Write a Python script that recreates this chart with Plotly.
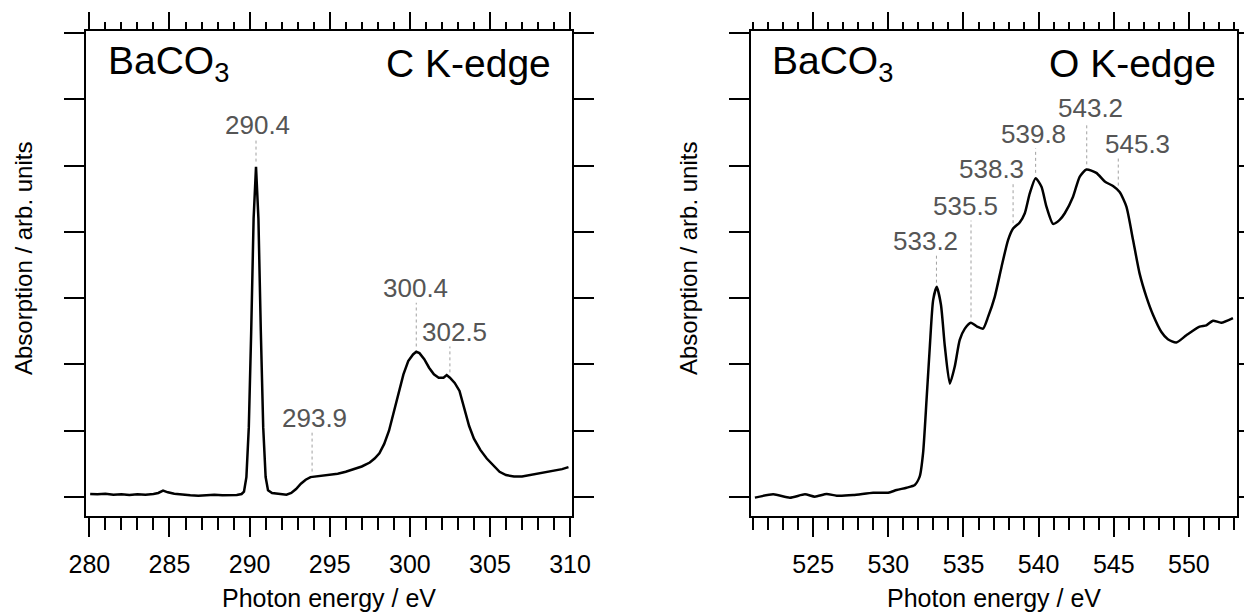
import plotly.graph_objects as go
import numpy as np

# ---------------- data ----------------
E_C = [280.05, 280.5, 281.0, 281.5, 282.0, 282.5, 283.0, 283.5, 284.0, 284.3, 284.6, 284.9,
       285.3, 285.8, 286.3, 286.8, 287.3, 287.8, 288.3, 288.8, 289.2, 289.5, 289.65, 289.8,
       289.95, 290.1, 290.25, 290.4, 290.55, 290.7, 290.85, 291.0, 291.15, 291.4, 291.7, 292.0,
       292.3, 292.6, 292.9, 293.2, 293.5, 293.8, 294.1, 294.5, 295.0, 295.5, 296.0, 296.5,
       297.0, 297.5, 297.8, 298.1, 298.4, 298.7, 299.0, 299.3, 299.6, 299.9, 300.2, 300.4,
       300.6, 300.9, 301.2, 301.5, 301.8, 302.1, 302.3, 302.5, 302.8, 303.1, 303.4, 303.7,
       304.0, 304.4, 304.8, 305.2, 305.6, 306.0, 306.5, 307.0, 307.5, 308.0, 308.5, 309.0,
       309.5, 309.9]
A_C = [0.045, 0.04, 0.05, 0.035, 0.04, 0.03, 0.04, 0.035, 0.045, 0.06, 0.095, 0.07,
       0.05, 0.035, 0.025, 0.02, 0.025, 0.035, 0.025, 0.03, 0.03, 0.045, 0.08, 0.3,
       1.05, 2.5, 4.2, 4.98, 4.2, 2.5, 1.05, 0.3, 0.1, 0.06, 0.05, 0.04,
       0.035, 0.06, 0.12, 0.2, 0.26, 0.3, 0.31, 0.32, 0.33, 0.35, 0.38, 0.42,
       0.46, 0.52, 0.58, 0.66, 0.8, 1.0, 1.28, 1.6, 1.85, 2.05, 2.15, 2.19,
       2.17, 2.08, 1.95, 1.85, 1.8, 1.8, 1.84, 1.8, 1.72, 1.6, 1.35, 1.07,
       0.88, 0.71, 0.58, 0.48, 0.38, 0.33, 0.31, 0.31, 0.33, 0.35, 0.37, 0.39,
       0.42, 0.45]

E_O = [521.12, 522.34, 523.45, 524.45, 525.11, 525.89, 526.56, 527.66, 528.99, 529.99, 530.55,
       531.21, 531.76, 532.09, 532.31, 532.54, 532.76, 532.98, 533.22, 533.5, 533.76, 534.09,
       534.42, 534.75, 535.09, 535.49, 535.9, 536.3, 536.64, 537.08, 537.53, 537.97, 538.3,
       538.74, 539.08, 539.41, 539.8, 540.19, 540.52, 540.96, 541.4, 541.74, 542.29, 542.73,
       543.18, 543.84, 544.4, 544.95, 545.39, 545.84, 546.28, 546.72, 547.17, 547.61, 548.17,
       548.6, 549.16, 549.83, 550.71, 551.16, 551.6, 552.15, 552.93]
A_O = [-0.01, 0.04, -0.01, 0.04, 0.005, 0.045, 0.02, 0.03, 0.065, 0.065, 0.105,
       0.14, 0.18, 0.31, 0.66, 1.46, 2.27, 2.97, 3.17, 2.9, 2.27, 1.71,
       1.97, 2.37, 2.54, 2.63, 2.57, 2.54, 2.72, 3.02, 3.47, 3.88, 4.05,
       4.14, 4.28, 4.58, 4.81, 4.68, 4.38, 4.12, 4.18, 4.28, 4.53, 4.83,
       4.94, 4.89, 4.76, 4.69, 4.6, 4.38, 3.88, 3.37, 3.02, 2.75, 2.49,
       2.38, 2.33, 2.44, 2.57, 2.59, 2.66, 2.63, 2.7]

PEAKS_C = [290.4, 293.9, 300.4, 302.5]
PEAKS_O = [533.2, 535.5, 538.3, 539.8, 543.2, 545.3]

# label layout (vertical position in axis units, horizontal shift in px)
LABEL_Y_C = [5.61, 1.19, 3.15, 2.49]
LABEL_DX_C = [1, 2, -1, 5]
LABEL_Y_O = [3.86, 4.39, 4.95, 5.48, 5.87, 5.33]
LABEL_DX_O = [-11, -6, -22, -2, 4, 19]

X_TICKS_C = [280, 285, 290, 295, 300, 305, 310]
X_TICKS_O = [525, 530, 535, 540, 545, 550]

# ---------------- layout constants ----------------
W, H = 1244, 612
FONT = "Arial, Liberation Sans, Helvetica, sans-serif"
XR_C = [279.79, 310.12]
XR_O = [520.84, 553.2]
YR = [-0.287, 7.03]
dom_y = [1 - 516 / H, 1 - 31 / H]
dom_xl = [86 / W, 572 / W]
dom_xr = [750.7 / W, 1237 / W]

fig = go.Figure()

fig.add_trace(go.Scatter(x=E_C, y=A_C, mode="lines", line=dict(color="black", width=2.5),
                         xaxis="x", yaxis="y", showlegend=False, hoverinfo="skip"))
fig.add_trace(go.Scatter(x=E_O, y=A_O, mode="lines", line=dict(color="black", width=2.5, shape="spline", smoothing=0.6),
                         xaxis="x2", yaxis="y2", showlegend=False, hoverinfo="skip"))
# invisible traces to activate top tick axes
fig.add_trace(go.Scatter(x=E_C, y=A_C, mode="lines", line=dict(color="rgba(0,0,0,0)"),
                         xaxis="x3", yaxis="y", showlegend=False, hoverinfo="skip"))
fig.add_trace(go.Scatter(x=E_O, y=A_O, mode="lines", line=dict(color="rgba(0,0,0,0)"),
                         xaxis="x4", yaxis="y2", showlegend=False, hoverinfo="skip"))

annotations = []


def add_marks(peaks, E, A, label_y, dx, xa, ya):
    for p, ly, d in zip(peaks, label_y, dx):
        cv = float(np.interp(p, E, A))
        fig.add_trace(go.Scatter(x=[p, p], y=[cv + 0.08, ly - 0.22], mode="lines",
                                 line=dict(color="#a0a0a0", width=1, dash="dot"),
                                 xaxis=xa, yaxis=ya, showlegend=False, hoverinfo="skip"))
        annotations.append(dict(x=p, y=ly, xref=xa, yref=ya, text=f"{p:.1f}", showarrow=False,
                                xshift=d, xanchor="center", yanchor="middle",
                                font=dict(size=26, color="#555555", family=FONT)))


add_marks(PEAKS_C, E_C, A_C, LABEL_Y_C, LABEL_DX_C, "x", "y")
add_marks(PEAKS_O, E_O, A_O, LABEL_Y_O, LABEL_DX_O, "x2", "y2")

xcommon = dict(showline=True, linewidth=2, linecolor="black", mirror=True, showgrid=False, zeroline=False,
               ticks="outside", ticklen=19, tickwidth=2, tickcolor="black", ticklabelstandoff=6,
               tickfont=dict(size=25, color="black", family=FONT), automargin=False,
               minor=dict(dtick=1, ticks="outside", ticklen=12, tickwidth=2, tickcolor="black", showgrid=False))
xtop = dict(showline=False, showgrid=False, zeroline=False, side="top", showticklabels=False, automargin=False,
            ticks="outside", ticklen=18, tickwidth=2, tickcolor="black",
            minor=dict(dtick=1, ticks="outside", ticklen=8, tickwidth=2, tickcolor="black", showgrid=False))
ycommon = dict(showline=True, linewidth=2, linecolor="black", mirror="ticks", showgrid=False, zeroline=False,
               ticks="outside", ticklen=20, tickwidth=2, tickcolor="black", showticklabels=False,
               automargin=False, tick0=0, dtick=1, range=YR, domain=dom_y)

fig.update_layout(
    width=W, height=H, autosize=False,
    margin=dict(l=0, r=0, t=0, b=0, pad=0, autoexpand=False),
    paper_bgcolor="white", plot_bgcolor="white",
    font=dict(family=FONT, size=24, color="black"),
    xaxis=dict(**xcommon, domain=dom_xl, range=XR_C, anchor="y", tickmode="array",
               tickvals=X_TICKS_C, ticktext=[str(v) for v in X_TICKS_C]),
    xaxis2=dict(**xcommon, domain=dom_xr, range=XR_O, anchor="y2", tickmode="array",
                tickvals=X_TICKS_O, ticktext=[str(v) for v in X_TICKS_O]),
    xaxis3=dict(**xtop, overlaying="x", anchor="y", range=XR_C, tickmode="array", tickvals=X_TICKS_C),
    xaxis4=dict(**xtop, overlaying="x2", anchor="y2", range=XR_O, tickmode="array", tickvals=X_TICKS_O),
    yaxis=dict(**ycommon, anchor="x"),
    yaxis2=dict(**ycommon, anchor="x2"),
)

# panel texts
annotations += [
    dict(x=106 / W, y=1 - 64 / H, xref="paper", yref="paper", text="BaCO<sub>3</sub>", showarrow=False,
         xanchor="left", yanchor="middle", font=dict(size=39, color="black", family=FONT)),
    dict(x=553 / W, y=1 - 64 / H, xref="paper", yref="paper", text="C K-edge", showarrow=False,
         xanchor="right", yanchor="middle", font=dict(size=39, color="black", family=FONT)),
    dict(x=770 / W, y=1 - 64 / H, xref="paper", yref="paper", text="BaCO<sub>3</sub>", showarrow=False,
         xanchor="left", yanchor="middle", font=dict(size=39, color="black", family=FONT)),
    dict(x=1218 / W, y=1 - 64 / H, xref="paper", yref="paper", text="O K-edge", showarrow=False,
         xanchor="right", yanchor="middle", font=dict(size=39, color="black", family=FONT)),
    dict(x=(86 + 572) / 2 / W, y=1 - 598 / H, xref="paper", yref="paper", text="Photon energy / eV",
         showarrow=False, xanchor="center", yanchor="middle", font=dict(size=25, color="black", family=FONT)),
    dict(x=(750.7 + 1237) / 2 / W, y=1 - 598 / H, xref="paper", yref="paper", text="Photon energy / eV",
         showarrow=False, xanchor="center", yanchor="middle", font=dict(size=25, color="black", family=FONT)),
    dict(x=23 / W, y=1 - 259 / H, xref="paper", yref="paper", text="Absorption / arb. units", textangle=-90,
         showarrow=False, xanchor="center", yanchor="middle", font=dict(size=24, color="black", family=FONT)),
    dict(x=688 / W, y=1 - 259 / H, xref="paper", yref="paper", text="Absorption / arb. units", textangle=-90,
         showarrow=False, xanchor="center", yanchor="middle", font=dict(size=24, color="black", family=FONT)),
]
fig.update_layout(annotations=annotations)

fig.write_html("out.html")
